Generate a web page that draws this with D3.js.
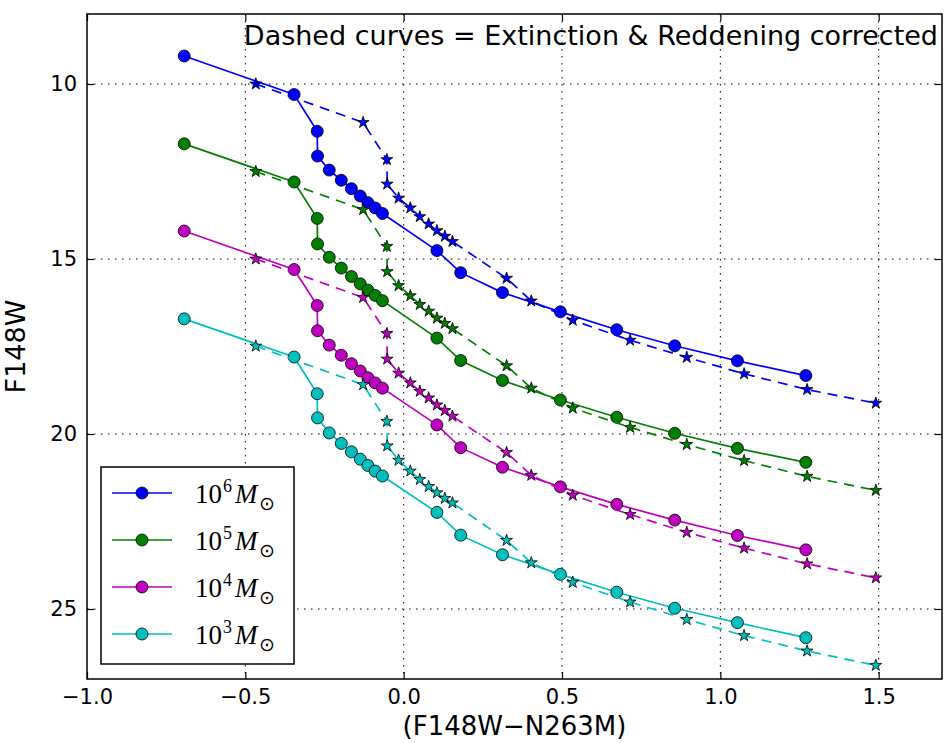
<!DOCTYPE html>
<html>
<head>
<meta charset="utf-8">
<script src="https://cdn.jsdelivr.net/npm/d3@7"></script>
<style>
  body { margin: 0; background: #fff; }
  #chart text { font-family: "DejaVu Sans", sans-serif; }
</style>
</head>
<body>
<div id="chart"></div>
<script>
// colours of the model points (same for every mass)
const colourModel = [-0.693, -0.346, -0.273, -0.272, -0.235, -0.197, -0.165, -0.137, -0.113, -0.090, -0.067,
  0.105, 0.180, 0.312, 0.495, 0.673, 0.856, 1.054, 1.270];
const colourCorr = [-0.467, -0.128, -0.053, -0.052, -0.016, 0.021, 0.051, 0.079, 0.105, 0.130, 0.154,
  0.325, 0.403, 0.534, 0.715, 0.894, 1.075, 1.274, 1.491];

// F148W magnitudes, solid (model) and dashed (corrected)
const mag1e6 = [9.20, 10.30, 11.35, 12.06, 12.46, 12.75, 12.99, 13.20, 13.39, 13.54, 13.70,
  14.76, 15.39, 15.96, 16.51, 17.02, 17.48, 17.91, 18.33];
const mag1e6Corr = [10.00, 11.10, 12.16, 12.86, 13.26, 13.54, 13.79, 14.00, 14.19, 14.35, 14.50,
  15.55, 16.20, 16.75, 17.32, 17.81, 18.28, 18.73, 19.12];
const mag1e5 = [11.71, 12.80, 13.84, 14.57, 14.95, 15.26, 15.50, 15.71, 15.89, 16.04, 16.19,
  17.26, 17.90, 18.47, 19.03, 19.52, 19.98, 20.41, 20.81];
const mag1e5Corr = [12.50, 13.59, 14.64, 15.36, 15.76, 16.05, 16.30, 16.49, 16.69, 16.84, 16.99,
  18.05, 18.69, 19.26, 19.81, 20.30, 20.76, 21.21, 21.61];
const mag1e4 = [14.20, 15.30, 16.33, 17.05, 17.46, 17.75, 17.99, 18.20, 18.39, 18.54, 18.69,
  19.74, 20.39, 20.95, 21.51, 22.01, 22.46, 22.90, 23.31];
const mag1e4Corr = [15.00, 16.10, 17.13, 17.86, 18.26, 18.54, 18.78, 18.97, 19.17, 19.33, 19.49,
  20.53, 21.18, 21.75, 22.30, 22.81, 23.26, 23.71, 24.11];
const mag1e3 = [16.71, 17.80, 18.85, 19.54, 19.97, 20.27, 20.51, 20.72, 20.90, 21.06, 21.20,
  22.24, 22.89, 23.45, 24.01, 24.52, 24.98, 25.39, 25.82];
const mag1e3Corr = [17.49, 18.59, 19.64, 20.34, 20.75, 21.06, 21.30, 21.50, 21.68, 21.84, 21.97,
  23.04, 23.68, 24.24, 24.80, 25.30, 25.76, 26.20, 26.61];

const massExp = ["6", "5", "4", "3"];
const seriesColors = ["#0000ff", "#008000", "#bf00bf", "#00bfbf"];
const xTicks = [-1.0, -0.5, 0.0, 0.5, 1.0, 1.5];
const yTicks = [10, 15, 20, 25];

const series = [
  { exp: massExp[0], color: seriesColors[0], mag: mag1e6, corr: mag1e6Corr },
  { exp: massExp[1], color: seriesColors[1], mag: mag1e5, corr: mag1e5Corr },
  { exp: massExp[2], color: seriesColors[2], mag: mag1e4, corr: mag1e4Corr },
  { exp: massExp[3], color: seriesColors[3], mag: mag1e3, corr: mag1e3Corr },
];

const W = 944, H = 743;
const margin = { top: 14, right: 2, bottom: 64, left: 87 };
const width = W - margin.left - margin.right;
const height = H - margin.top - margin.bottom;

const svg = d3.select("#chart").append("svg")
  .attr("width", W).attr("height", H)
  .append("g")
  .attr("transform", `translate(${margin.left},${margin.top})`);

const x = d3.scaleLinear().domain([-1.0, 1.7]).range([0, width]);
const y = d3.scaleLinear().domain([8, 27]).range([0, height]);

// grid (dotted)
svg.append("g").selectAll("line").data(xTicks.filter(d => d > -1)).enter().append("line")
  .attr("x1", d => x(d)).attr("x2", d => x(d)).attr("y1", 0).attr("y2", height)
  .attr("stroke", "#000").attr("stroke-width", 1).attr("stroke-dasharray", "1.5,5.5");
svg.append("g").selectAll("line").data(yTicks).enter().append("line")
  .attr("y1", d => y(d)).attr("y2", d => y(d)).attr("x1", 0).attr("x2", width)
  .attr("stroke", "#000").attr("stroke-width", 1).attr("stroke-dasharray", "1.5,5.5");

// axes: ticks inward on all four sides
const tk = 7;
const xb = svg.append("g").attr("transform", `translate(0,${height})`)
  .call(d3.axisBottom(x).tickValues(xTicks).tickSizeInner(-tk).tickSizeOuter(0).tickPadding(10)
    .tickFormat(d => d3.format(".1f")(d).replace("-", "\u2212")));
const xt = svg.append("g")
  .call(d3.axisTop(x).tickValues(xTicks).tickSizeInner(-tk).tickSizeOuter(0).tickFormat(""));
const yl = svg.append("g")
  .call(d3.axisLeft(y).tickValues(yTicks).tickSizeInner(-tk).tickSizeOuter(0).tickPadding(10));
const yr = svg.append("g").attr("transform", `translate(${width},0)`)
  .call(d3.axisRight(y).tickValues(yTicks).tickSizeInner(-tk).tickSizeOuter(0).tickFormat(""));
[xb, xt, yl, yr].forEach(a => {
  a.select(".domain").remove();
  a.selectAll(".tick line").attr("stroke", "#000").attr("stroke-width", 1.2);
  a.selectAll("text").style("font-size", "21px").attr("fill", "#000");
});

// title note
svg.append("text")
  .attr("x", width - 4).attr("y", 31)
  .attr("text-anchor", "end")
  .style("font-size", "27px")
  .text("Dashed curves = Extinction & Reddening corrected");

const line = d3.line().x(d => x(d[0])).y(d => y(d[1]));
const star = d3.symbol().type(d3.symbolStar).size(44);

series.forEach(s => {
  const pts = colourModel.map((c, i) => [c, s.mag[i]]);
  const cpts = colourCorr.map((c, i) => [c, s.corr[i]]);

  svg.append("path").datum(pts)
    .attr("fill", "none").attr("stroke", s.color).attr("stroke-width", 1.7)
    .attr("d", line);
  svg.append("g").selectAll("circle").data(pts).enter().append("circle")
    .attr("cx", d => x(d[0])).attr("cy", d => y(d[1])).attr("r", 6)
    .attr("fill", s.color).attr("stroke", "#000").attr("stroke-width", 0.8);

  svg.append("path").datum(cpts)
    .attr("fill", "none").attr("stroke", s.color).attr("stroke-width", 1.7)
    .attr("stroke-dasharray", "10,7")
    .attr("d", line);
  svg.append("g").selectAll("path").data(cpts).enter().append("path")
    .attr("transform", d => `translate(${x(d[0])},${y(d[1])})`)
    .attr("d", star)
    .attr("fill", s.color).attr("stroke", "#000").attr("stroke-width", 0.8);
});

// frame
svg.append("rect").attr("width", width).attr("height", height)
  .attr("fill", "none").attr("stroke", "#000").attr("stroke-width", 1.5);

// legend
const legend = svg.append("g").attr("transform", "translate(14,453)");
legend.append("rect").attr("width", 193).attr("height", 197)
  .attr("fill", "#fff").attr("stroke", "#000").attr("stroke-width", 1.5);
series.forEach((s, i) => {
  const ly = 26 + i * 47;
  legend.append("line").attr("x1", 11).attr("x2", 71).attr("y1", ly).attr("y2", ly)
    .attr("stroke", s.color).attr("stroke-width", 1.7);
  legend.append("circle").attr("cx", 41).attr("cy", ly).attr("r", 6)
    .attr("fill", s.color).attr("stroke", "#000").attr("stroke-width", 0.8);
  const t = legend.append("text").attr("x", 94).attr("y", ly + 10)
    .style("font-family", "'Liberation Serif', serif").style("font-size", "27px");
  t.append("tspan").text("10");
  t.append("tspan").attr("dy", -11).attr("dx", 1).style("font-size", "18px").text(s.exp);
  t.append("tspan").attr("dy", 11).attr("dx", 3).style("font-style", "italic").text("M");
  t.append("tspan").attr("dy", 7).attr("dx", 1).style("font-size", "19px").text("\u2299");
});

// axis labels
svg.append("text")
  .attr("x", width / 2).attr("y", height + 56)
  .attr("text-anchor", "middle")
  .style("font-size", "26px")
  .text("(F148W\u2212N263M)");
svg.append("text")
  .attr("transform", `translate(${-62},${height / 2}) rotate(-90)`)
  .attr("text-anchor", "middle")
  .style("font-size", "27px")
  .text("F148W");
</script>
</body>
</html>
